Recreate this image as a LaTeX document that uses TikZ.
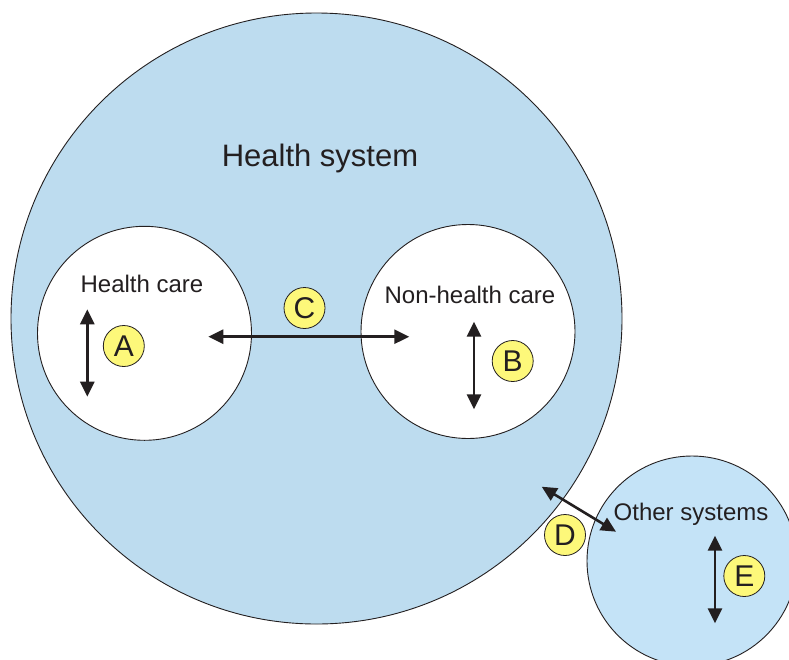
\documentclass[tikz,border=0pt]{standalone}
\usepackage{fontspec}
\setmainfont{Liberation Sans}
\usetikzlibrary{arrows.meta}
\definecolor{hsblue}{RGB}{189,220,239}
\definecolor{osblue}{RGB}{196,227,247}
\definecolor{lblyellow}{RGB}{253,248,122}
\definecolor{txt}{RGB}{35,31,32}
\begin{document}
\begin{tikzpicture}[x=1pt,y=-1pt,
  sys/.style={circle,draw=txt,line width=0.9pt,inner sep=0pt},
  lbl/.style={circle,draw=txt,line width=0.8pt,fill=lblyellow,minimum size=41pt,inner sep=0pt,font=\fontsize{30}{30}\selectfont,text=txt},
  flow/.style={line width=2.6pt,draw=txt,{Triangle[length=15pt,width=14pt]}-{Triangle[length=15pt,width=14pt]}},
  captext/.style={font=\fontsize{24}{24}\selectfont,text=txt,anchor=base,inner sep=0pt}]
\useasboundingbox (0,0) rectangle (789,659);
\clip (0,0) rectangle (789,659);
\fill[white] (0,0) rectangle (789,659);
% systems
\node[sys,fill=hsblue,minimum size=611pt] (hs) at (316.5,318.5) {};
\node[sys,fill=white,minimum size=214pt] (hc) at (144.5,333.3) {};
\node[sys,fill=white,minimum size=214pt] (nhc) at (468,331.5) {};
\node[sys,fill=osblue,minimum size=210pt] (os) at (692,561) {};
% captions
\node[captext,font=\fontsize{31}{31}\selectfont] (hstext) at (320,166) {Health system};
\node[captext] (hctext) at (142,292.7) {Health care};
\node[captext] (nhctext) at (470,303.3) {Non-health care};
\node[captext] (ostext) at (691,520.7) {Other systems};
% arrow end points
\coordinate (a1) at (87.3,309.3);  \coordinate (a2) at (87.3,396.7);
\coordinate (b1) at (474,321.7);   \coordinate (b2) at (474,409.3);
\coordinate (c1) at (208.3,336.7); \coordinate (c2) at (409.3,336.7);
\coordinate (d1) at (541.7,486.7); \coordinate (d2) at (616,531.7);
\coordinate (e1) at (715,535.7);   \coordinate (e2) at (715,623.3);
\draw[flow] (a1) -- (a2);
\draw[flow] (b1) -- (b2);
\draw[flow] (c1) -- (c2);
\draw[flow] (d1) -- (d2);
\draw[flow] (e1) -- (e2);
% labels
\node[lbl] (la) at (123.8,346) {A};
\node[lbl] (lb) at (512.7,361) {B};
\node[lbl] (lc) at (304.5,308) {C};
\node[lbl] (ld) at (565,535) {D};
\node[lbl] (le) at (744.3,576) {E};
\end{tikzpicture}
\end{document}
